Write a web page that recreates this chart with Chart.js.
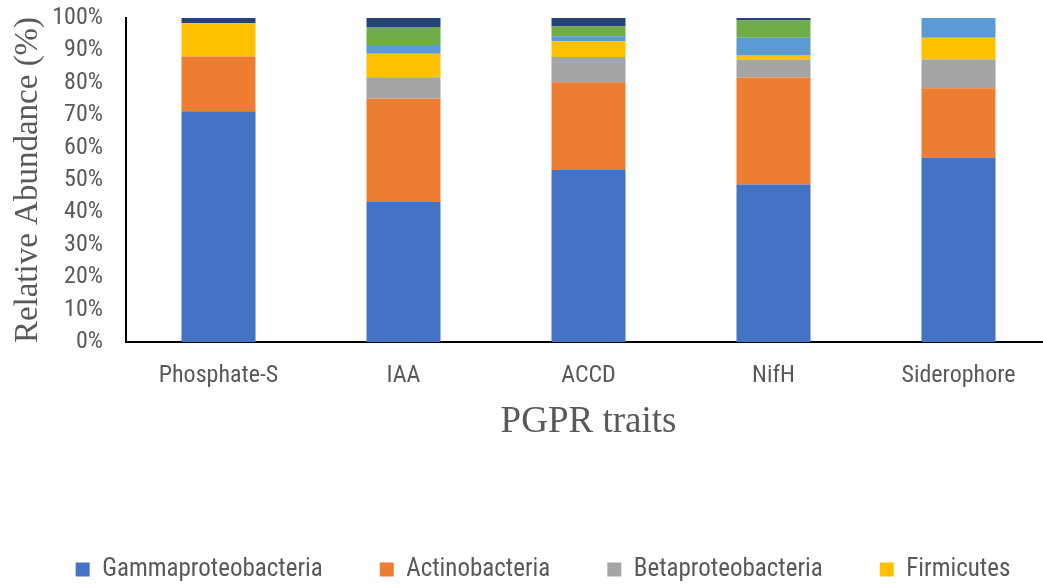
<!DOCTYPE html>
<html>
<head>
<meta charset="utf-8">
<title>PGPR traits – relative abundance</title>
<script src="https://cdn.jsdelivr.net/npm/chart.js@4/dist/chart.umd.min.js"></script>
<style>
  html, body { margin: 0; padding: 0; background: #ffffff; overflow: hidden; }
  #wrap { width: 1086px; height: 674px; }
</style>
</head>
<body>
<div id="wrap"><canvas id="chart" width="1086" height="674"></canvas></div>
<script>
// Traits tested and the share (%) of isolates in each bacterial group
const categories = ['Phosphate-S', 'IAA', 'ACCD', 'NifH', 'Siderophore'];
const gammaproteobacteria = [71.2, 43.2, 53.1, 48.6, 56.9];
const actinobacteria      = [16.9, 31.9, 27.1, 33.0, 21.4];
const betaproteobacteria  = [0.0, 6.6, 7.8, 5.5, 8.9];
const firmicutes          = [10.3, 7.3, 4.8, 1.5, 6.7];
const alphaproteobacteria = [0.0, 2.7, 1.6, 5.3, 6.1];
const bacteroidetes       = [0.0, 5.5, 3.0, 5.3, 0.0];
const others              = [1.6, 2.8, 2.6, 0.8, 0.0];
const yTicks = [0, 10, 20, 30, 40, 50, 60, 70, 80, 90, 100];

const series = [
  { label: 'Gammaproteobacteria', data: gammaproteobacteria, color: '#4472C4' },
  { label: 'Actinobacteria',      data: actinobacteria,      color: '#ED7D31' },
  { label: 'Betaproteobacteria',  data: betaproteobacteria,  color: '#A5A5A5' },
  { label: 'Firmicutes',          data: firmicutes,          color: '#FFC000' },
  { label: 'Alphaproteobacteria', data: alphaproteobacteria, color: '#5B9BD5' },
  { label: 'Bacteroidetes',       data: bacteroidetes,       color: '#70AD47' },
  { label: 'Others',              data: others,              color: '#264478' }
];

const textGray = '#595959';
const sansFont = '"Roboto Condensed", "Liberation Sans", sans-serif';
const serifFont = '"Liberation Serif", "Times New Roman", serif';

new Chart(document.getElementById('chart'), {
  type: 'bar',
  data: {
    labels: categories,
    datasets: series.map(s => ({
      label: s.label,
      data: s.data,
      backgroundColor: s.color,
      borderWidth: 0,
      barPercentage: 0.4,
      categoryPercentage: 1.0
    }))
  },
  options: {
    responsive: false,
    animation: false,
    devicePixelRatio: 1,
    layout: { padding: { top: 18, right: 0, left: 0, bottom: 0 } },
    plugins: {
      tooltip: { enabled: false },
      legend: {
        position: 'bottom',
        labels: {
          boxWidth: 14,
          boxHeight: 14,
          padding: 57,
          color: textGray,
          font: { family: sansFont, size: 25 }
        }
      }
    },
    scales: {
      x: {
        stacked: true,
        grid: { display: false, drawTicks: false },
        border: { display: true, color: '#000000', width: 2 },
        ticks: {
          color: textGray,
          padding: 20,
          font: { family: sansFont, size: 24 }
        },
        title: {
          display: true,
          text: 'PGPR traits',
          color: textGray,
          font: { family: serifFont, size: 37 },
          padding: { top: 0, bottom: 56 }
        },
        afterFit(scale) { scale.height = 158; }
      },
      y: {
        stacked: true,
        min: 0,
        max: 100,
        afterBuildTicks(scale) { scale.ticks = yTicks.map(v => ({ value: v })); },
        grid: { display: false, drawTicks: false },
        border: { display: true, color: '#000000', width: 2 },
        ticks: {
          autoSkip: false,
          color: textGray,
          padding: 23,
          font: { family: sansFont, size: 24 },
          callback: v => v + '%'
        },
        title: {
          display: true,
          text: 'Relative Abundance (%)',
          color: textGray,
          font: { family: serifFont, size: 33 },
          padding: { top: 9, bottom: 0 }
        },
        afterFit(scale) {
          scale.width = 126;
          scale.paddingTop = 0;
          scale.paddingBottom = 0;
        }
      },
      // empty margin on the right of the plot area
      rightMargin: {
        type: 'linear',
        position: 'right',
        display: true,
        grid: { display: false, drawTicks: false },
        border: { display: false },
        ticks: { display: false },
        afterFit(scale) {
          scale.width = 35;
          scale.paddingTop = 0;
          scale.paddingBottom = 0;
        }
      }
    }
  }
});
</script>
</body>
</html>
